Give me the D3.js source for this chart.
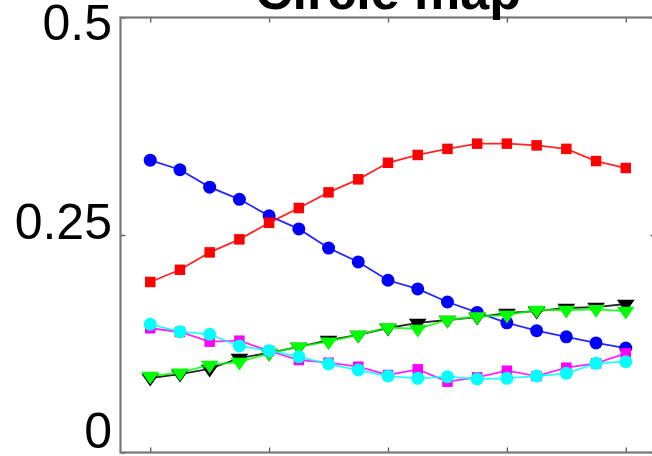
<!DOCTYPE html>
<html>
<head>
<meta charset="utf-8">
<script src="https://cdn.jsdelivr.net/npm/d3@7"></script>
<style>
  html, body { margin: 0; padding: 0; background: #fff; }
  svg { display: block; }
</style>
</head>
<body>
<div id="chart"></div>
<script>
// Sample index (1..17) shared by every series
const samples = d3.range(1, 18);

const blueCircles = [0.336, 0.325, 0.305, 0.291, 0.272, 0.257, 0.235, 0.219, 0.198, 0.188,
                     0.173, 0.161, 0.149, 0.140, 0.133, 0.126, 0.120];
const redSquares = [0.196, 0.210, 0.230, 0.245, 0.264, 0.281, 0.299, 0.314, 0.333, 0.342,
                    0.349, 0.355, 0.355, 0.353, 0.349, 0.335, 0.327];
const blackTriangles = [0.0856, 0.0902, 0.0960, 0.1086, 0.1144, 0.1213, 0.1293, 0.1351, 0.1431,
                        0.1489, 0.1523, 0.1557, 0.1603, 0.1626, 0.1661, 0.1672, 0.1707];
const greenTriangles = [0.0879, 0.0917, 0.1006, 0.1040, 0.1140, 0.1216, 0.1274, 0.1351, 0.1437,
                        0.1420, 0.1523, 0.1563, 0.1580, 0.1638, 0.1638, 0.1646, 0.1626];
const magentaSquares = [0.1428, 0.1385, 0.1274, 0.1285, 0.1167, 0.1063, 0.1032, 0.0986, 0.0891,
                        0.0956, 0.0814, 0.0864, 0.0940, 0.0879, 0.0975, 0.1025, 0.1140];
const cyanCircles = [0.1474, 0.1389, 0.1359, 0.1224, 0.1170, 0.1101, 0.1017, 0.0948, 0.0879,
                     0.0853, 0.0871, 0.0845, 0.0853, 0.0879, 0.0910, 0.1025, 0.1044];

const xTicks = [1, 5, 9, 13, 17];
const yTicks = [0, 0.25, 0.5];
const yTickLabels = ["0", "0.25", "0.5"];
const title = "Circle map";

const series = [
  { values: blueCircles,    color: "#0000ff", marker: "circle" },
  { values: redSquares,     color: "#ff0000", marker: "square" },
  { values: blackTriangles, color: "#000000", marker: "triangle" },
  { values: greenTriangles, color: "#00ff00", marker: "triangle" },
  { values: magentaSquares, color: "#ff00ff", marker: "square" },
  { values: cyanCircles,    color: "#00ffff", marker: "circle" }
];

const W = 652, H = 456;
const plotLeft = 120.5, plotRight = 655.5, plotTop = 17.5, plotBottom = 452.5;

const x = d3.scaleLinear().domain([0, 18]).range([plotLeft, plotRight]);
const y = d3.scaleLinear().domain([0, 0.5]).range([plotBottom, plotTop]);
// tick labels sit a little off their ticks
const yLabel = d3.scaleLinear().domain([0, 0.25, 0.5]).range([448, 239, 40]);

const svg = d3.select("#chart").append("svg")
  .attr("width", W).attr("height", H)
  .style("font-family", "'Liberation Sans', Arial, sans-serif");

const frameColor = "#777";

// Axes: ticks point inward on all four sides
const axisG = svg.append("g");
axisG.append("g").attr("transform", `translate(0,${plotBottom})`)
  .call(d3.axisBottom(x).tickValues(xTicks).tickSize(-5).tickFormat(""));
axisG.append("g").attr("transform", `translate(0,${plotTop})`)
  .call(d3.axisTop(x).tickValues(xTicks).tickSize(-5).tickFormat(""));
axisG.append("g").attr("transform", `translate(${plotLeft},0)`)
  .call(d3.axisLeft(y).tickValues(yTicks).tickSize(-5).tickFormat(""));
axisG.append("g").attr("transform", `translate(${plotRight},0)`)
  .call(d3.axisRight(y).tickValues(yTicks).tickSize(-5).tickFormat(""));
axisG.selectAll(".domain").remove();
axisG.selectAll(".tick line").attr("stroke", "#555").attr("stroke-width", 1.3);

svg.append("rect")
  .attr("x", plotLeft).attr("y", plotTop)
  .attr("width", plotRight - plotLeft).attr("height", plotBottom - plotTop)
  .attr("fill", "none").attr("stroke", frameColor).attr("stroke-width", 2.2);

// Y tick labels
svg.append("g").selectAll("text").data(yTicks).join("text")
  .attr("x", 112).attr("y", d => yLabel(d))
  .attr("text-anchor", "end")
  .attr("font-size", 50)
  .attr("fill", "#000")
  .text((d, i) => yTickLabels[i]);

// Title
svg.append("text")
  .attr("x", (plotLeft + plotRight) / 2).attr("y", 9)
  .attr("text-anchor", "middle")
  .attr("font-size", 52).attr("font-weight", "bold")
  .attr("fill", "#000")
  .text(title);

const line = d3.line().x((d, i) => x(samples[i])).y(d => y(d));

const symbolFor = {
  circle: d3.symbol().type(d3.symbolCircle).size(Math.PI * 6.5 * 6.5),
  square: d3.symbol().type(d3.symbolSquare).size(10.5 * 10.5),
  triangle: d3.symbol().type(d3.symbolTriangle).size(95)
};

const plot = svg.append("g");
series.forEach(s => {
  const g = plot.append("g");
  g.append("path")
    .datum(s.values)
    .attr("d", line)
    .attr("fill", "none")
    .attr("stroke", s.color)
    .attr("stroke-width", 1.8)
    .attr("stroke-opacity", 0.85);
  g.selectAll("path.mark").data(s.values).join("path")
    .attr("class", "mark")
    .attr("d", symbolFor[s.marker])
    .attr("transform", (d, i) => {
      const t = `translate(${x(samples[i])},${y(d)})`;
      return s.marker === "triangle" ? t + " rotate(180) scale(1.2,1)" : t;
    })
    .attr("fill", s.color);
});
</script>
</body>
</html>
